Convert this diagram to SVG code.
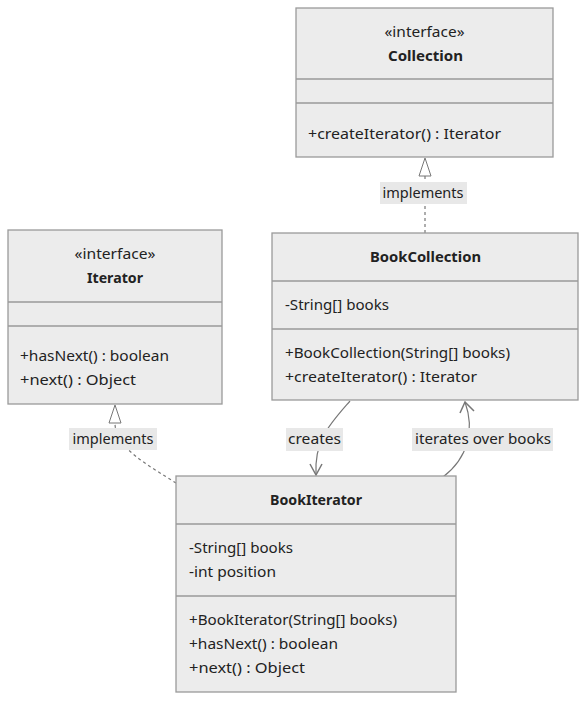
<svg xmlns="http://www.w3.org/2000/svg" width="586" height="701" viewBox="0 0 586 701">
<defs>
<style>
.box{fill:#ececec;stroke:#9a9a9a;stroke-width:1.3}
.div{stroke:#9a9a9a;stroke-width:1.3}
text{font-family:"Noto Sans","DejaVu Sans",sans-serif;font-size:15px;fill:#222}
.c{text-anchor:middle}
.b{font-weight:bold}
.edge{fill:none;stroke:#777;stroke-width:1.2}
.dash{stroke-dasharray:3,3}
.lbl{fill:#e8e8e8}
.tri{fill:#fff;stroke:#777;stroke-width:1}
.open{fill:none;stroke:#777;stroke-width:1.5}
</style>
</defs>
<g id="connectors">
<path class="edge dash" d="M425,233 L425,176"/>
<path class="tri" d="M425,158 L431,176 L419,176 Z"/>
<rect class="lbl" x="380" y="182" width="87" height="22"/>
<text class="c" x="423" y="198" textLength="81" lengthAdjust="spacingAndGlyphs">implements</text>
<path class="edge dash" d="M176,483 C148,465 115,448 115,423"/>
<path class="tri" d="M115,405 L121,423 L109,423 Z"/>
<rect class="lbl" x="69" y="428" width="88" height="22"/>
<text class="c" x="113" y="444" textLength="81" lengthAdjust="spacingAndGlyphs">implements</text>
<path class="edge" d="M350,401 C330,424 314,440 316,475"/>
<path class="open" d="M310,464 L316,475 L322,464"/>
<rect class="lbl" x="286" y="428" width="57" height="23"/>
<text class="c" x="314.5" y="444" textLength="53" lengthAdjust="spacingAndGlyphs">creates</text>
<path class="edge" d="M443,477 C468,458 475,430 465,402"/>
<path class="open" d="M460,413 L465,402 L474,411"/>
<rect class="lbl" x="412" y="428" width="141" height="23"/>
<text class="c" x="483" y="444" textLength="136" lengthAdjust="spacingAndGlyphs">iterates over books</text>
</g>
<g id="Collection">
<rect class="box" x="296" y="8" width="257" height="149"/>
<line class="div" x1="296" y1="79" x2="553" y2="79"/>
<line class="div" x1="296" y1="103" x2="553" y2="103"/>
<text class="c" x="424.5" y="37" textLength="80" lengthAdjust="spacingAndGlyphs">«interface»</text>
<text class="c b" x="425.5" y="61" textLength="75" lengthAdjust="spacingAndGlyphs">Collection</text>
<text x="308" y="139" textLength="193" lengthAdjust="spacingAndGlyphs">+createIterator() : Iterator</text>
</g>
<g id="Iterator">
<rect class="box" x="8" y="230" width="214" height="174"/>
<line class="div" x1="8" y1="302" x2="222" y2="302"/>
<line class="div" x1="8" y1="326" x2="222" y2="326"/>
<text class="c" x="115" y="259" textLength="81" lengthAdjust="spacingAndGlyphs">«interface»</text>
<text class="c b" x="115" y="283" textLength="56" lengthAdjust="spacingAndGlyphs">Iterator</text>
<text x="20" y="361" textLength="149" lengthAdjust="spacingAndGlyphs">+hasNext() : boolean</text>
<text x="20" y="385" textLength="116" lengthAdjust="spacingAndGlyphs">+next() : Object</text>
</g>
<g id="BookCollection">
<rect class="box" x="272" y="233" width="306" height="167"/>
<line class="div" x1="272" y1="281" x2="578" y2="281"/>
<line class="div" x1="272" y1="329" x2="578" y2="329"/>
<text class="c b" x="425.5" y="262" textLength="111" lengthAdjust="spacingAndGlyphs">BookCollection</text>
<text x="285" y="310" textLength="104" lengthAdjust="spacingAndGlyphs">-String[] books</text>
<text x="285" y="358" textLength="225" lengthAdjust="spacingAndGlyphs">+BookCollection(String[] books)</text>
<text x="285" y="382" textLength="192" lengthAdjust="spacingAndGlyphs">+createIterator() : Iterator</text>
</g>
<g id="BookIterator">
<rect class="box" x="176" y="476" width="280" height="216"/>
<line class="div" x1="176" y1="524" x2="456" y2="524"/>
<line class="div" x1="176" y1="596" x2="456" y2="596"/>
<text class="c b" x="316" y="505" textLength="92" lengthAdjust="spacingAndGlyphs">BookIterator</text>
<text x="189" y="553" textLength="104" lengthAdjust="spacingAndGlyphs">-String[] books</text>
<text x="189" y="577" textLength="87" lengthAdjust="spacingAndGlyphs">-int position</text>
<text x="189" y="625" textLength="208" lengthAdjust="spacingAndGlyphs">+BookIterator(String[] books)</text>
<text x="189" y="649" textLength="149" lengthAdjust="spacingAndGlyphs">+hasNext() : boolean</text>
<text x="189" y="673" textLength="116" lengthAdjust="spacingAndGlyphs">+next() : Object</text>
</g>
</svg>
